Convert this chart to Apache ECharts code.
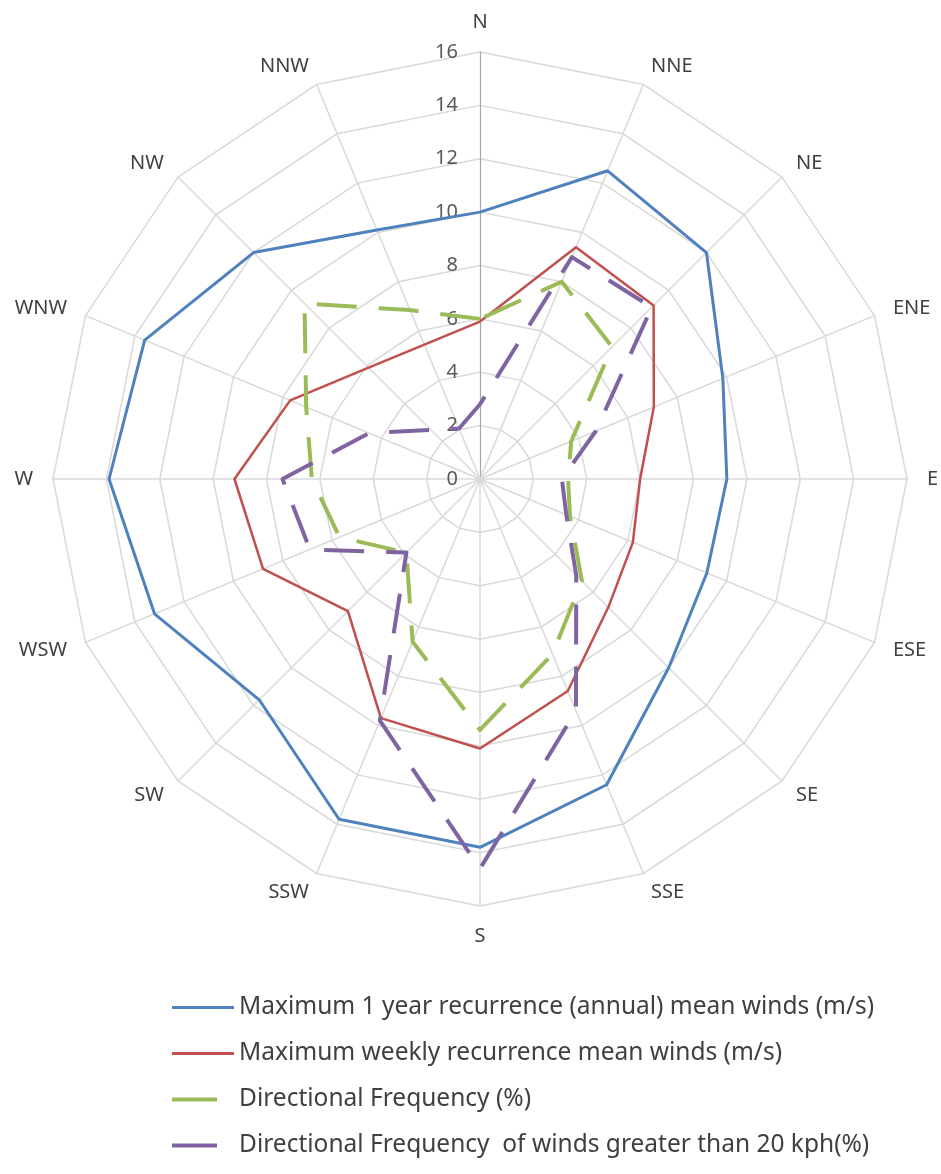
<!DOCTYPE html>
<html>
<head>
<meta charset="utf-8">
<script src="https://cdn.jsdelivr.net/npm/echarts@6/dist/echarts.min.js"></script>
<style>
  html, body { margin: 0; padding: 0; background: #fff; }
  #chart { width: 941px; height: 1174px; }
</style>
</head>
<body>
<div id="chart"></div>
<script>
// compass order, clockwise from north
const directions = ['N', 'NNE', 'NE', 'ENE', 'E', 'ESE', 'SE', 'SSE', 'S', 'SSW', 'SW', 'WSW', 'W', 'WNW', 'NW', 'NNW'];
const tickLabels = [0, 2, 4, 6, 8, 10, 12, 14, 16];

const annualWinds = [10.0, 12.5, 12.0, 9.85, 9.25, 9.2, 10.0, 12.4, 13.8, 13.8, 11.7, 13.2, 13.9, 13.6, 12.0, 10.1];
const weeklyWinds = [5.9, 9.4, 9.2, 7.05, 6.0, 6.2, 6.8, 8.6, 10.1, 9.7, 7.0, 8.8, 9.2, 7.7, 5.9, 5.45];
const dirFrequency = [6.0, 8.0, 7.0, 3.7, 3.3, 3.65, 5.4, 7.1, 9.4, 6.6, 3.9, 5.7, 6.3, 7.05, 9.3, 6.85];
const dirFrequency20 = [2.8, 9.0, 9.1, 4.7, 3.07, 3.5, 5.1, 9.4, 14.6, 9.8, 3.9, 6.9, 7.4, 4.5, 2.6, 2.05];

const seriesNames = [
  'Maximum 1 year recurrence (annual) mean winds (m/s)',
  'Maximum weekly recurrence mean winds (m/s)',
  'Directional Frequency (%)',
  'Directional Frequency  of winds greater than 20 kph(%)'
];

// echarts lays radar axes out counter-clockwise, the compass goes clockwise
const order = directions.map((d, i) => (directions.length - i) % directions.length);
const reorder = arr => order.map(i => arr[i]);

const textColor = '#404040';
const font = 'Noto Sans';

const chart = echarts.init(document.getElementById('chart'), null, { renderer: 'canvas' });

const indicators = reorder(directions).map((name, i) => {
  const ind = { name: name, min: 0, max: 16 };
  if (i === 0) {
    // only the north axis carries the value labels
    ind.axisLabel = {
      show: true,
      color: '#595959',
      fontSize: 20,
      fontFamily: font,
      margin: 22,
      formatter: v => (tickLabels.includes(v) ? String(v) : '')
    };
    ind.axisLine = { lineStyle: { color: '#A6A6A6', width: 1.2 } };
  }
  return ind;
});

const lineSeries = (name, values, color, width, dashed) => ({
  name: name,
  type: 'radar',
  symbol: 'none',
  silent: true,
  z: 2,
  lineStyle: { color: color, width: width, type: dashed ? [40, 22] : 'solid', cap: 'butt' },
  itemStyle: { color: color },
  areaStyle: null,
  data: [{ name: name, value: reorder(values) }]
});

const solidIcon = 'path://M0,0h62v3h-62z';
const dashIcon = 'path://M0,0h45v4h-45zM61.9,0h0.1v0.1h-0.1z';

const option = {
  backgroundColor: '#ffffff',
  animation: false,
  legend: {
    orient: 'vertical',
    left: 167,
    top: 990,
    itemWidth: 62,
    itemHeight: 4,
    itemGap: 21,
    textStyle: { color: textColor, fontSize: 24.5, fontFamily: font },
    data: [
      { name: seriesNames[0], icon: solidIcon },
      { name: seriesNames[1], icon: solidIcon },
      { name: seriesNames[2], icon: dashIcon },
      { name: seriesNames[3], icon: dashIcon }
    ]
  },
  radar: {
    center: [480, 479],
    radius: 427,
    startAngle: 90,
    shape: 'polygon',
    splitNumber: 8,
    indicator: indicators,
    nameGap: 20,
    axisName: { color: textColor, fontSize: 20, fontFamily: font },
    axisLabel: { show: false },
    axisTick: { show: false },
    axisLine: { lineStyle: { color: '#D9D9D9', width: 1.5 } },
    splitLine: { lineStyle: { color: '#D9D9D9', width: 1.5 } },
    splitArea: { show: false }
  },
  series: [
    lineSeries(seriesNames[0], annualWinds, '#4F81BD', 3, false),
    lineSeries(seriesNames[1], weeklyWinds, '#C0504D', 2.5, false),
    lineSeries(seriesNames[2], dirFrequency, '#9BBB59', 4, true),
    lineSeries(seriesNames[3], dirFrequency20, '#8064A2', 4, true)
  ]
};

chart.setOption(option);
window.addEventListener('resize', () => chart.resize());
</script>
</body>
</html>
